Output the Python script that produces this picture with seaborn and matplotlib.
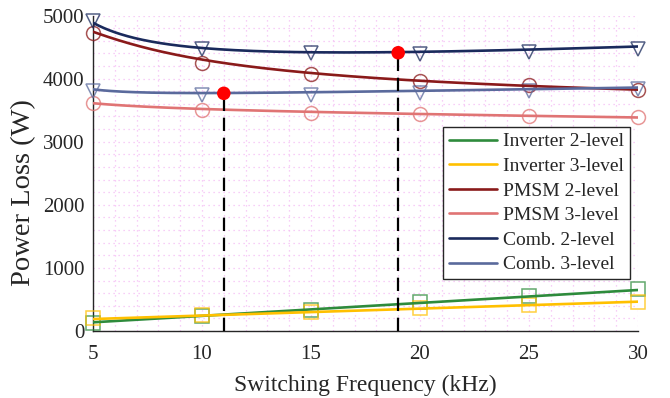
import numpy as np
import pandas as pd
import matplotlib
matplotlib.use("Agg")
import matplotlib.pyplot as plt
from matplotlib.ticker import MultipleLocator
import seaborn as sns

# ---------------- data ----------------
freq = [5, 10, 15, 20, 25, 30]  # kHz

# measured / simulated points (markers)
inv2_pts = [122, 238, 340, 465, 555, 660]
inv3_pts = [201, 253, 300, 359, 412, 465]
pmsm2_pts = [4717, 4252, 4068, 3967, 3899, 3819]
pmsm3_pts = [3618, 3502, 3460, 3439, 3407, 3396]
comb2_pts = [4913, 4474, 4400, 4395, 4421, 4465]
comb3_pts = [3803, 3740, 3740, 3772, 3810, 3830]

# model curves (lines) read at the same frequencies
inv2_fit = [138, 240, 343, 445, 548, 650]
inv3_fit = [190, 245, 300, 355, 410, 465]
pmsm2_fit = [4743, 4295, 4110, 3948, 3883, 3830]
pmsm3_fit = [3610, 3518, 3476, 3439, 3407, 3386]
comb2_fit = [4886, 4480, 4432, 4416, 4453, 4515]
comb3_fit = [3830, 3770, 3787, 3805, 3830, 3860]

# optimum points
opt_freq = [11, 19]
opt_loss = [3767, 4410]

labels = ["Inverter 2-level", "Inverter 3-level", "PMSM 2-level",
          "PMSM 3-level", "Comb. 2-level", "Comb. 3-level"]
colors = ["#2E8B3C", "#FFC000", "#8A1A1A", "#E07474", "#1A2A5C", "#5A6A9C"]
markers = ["s", "s", "o", "o", "v", "v"]
pts = [inv2_pts, inv3_pts, pmsm2_pts, pmsm3_pts, comb2_pts, comb3_pts]
fits = [inv2_fit, inv3_fit, pmsm2_fit, pmsm3_fit, comb2_fit, comb3_fit]

# ---------------- style ----------------
sns.set_style("white")
plt.rcParams["font.family"] = ["Liberation Serif", "DejaVu Serif"]

fig = plt.figure(figsize=(6.7, 3.98), dpi=100)
ax = fig.add_axes([0.1388, 0.1683, 0.8134, 0.7927])

f_arr = np.array(freq, dtype=float)
ff = np.linspace(5, 30, 300)

def smooth(vals):
    A = np.vstack([np.ones_like(f_arr), f_arr, 1 / f_arr, 1 / f_arr**2]).T
    coef, *_ = np.linalg.lstsq(A, np.array(vals, dtype=float), rcond=None)
    B = np.vstack([np.ones_like(ff), ff, 1 / ff, 1 / ff**2]).T
    return B @ coef

# markers first (behind lines)
for p, c, m in zip(pts, colors, markers):
    sns.lineplot(x=freq, y=p, ax=ax, linestyle="", marker=m, markersize=10,
                 markerfacecolor="none", markeredgecolor=c, markeredgewidth=1.1,
                 alpha=0.75, zorder=3, clip_on=False)

# model curves
for fv, c, lab in zip(fits, colors, labels):
    sns.lineplot(x=ff, y=smooth(fv), ax=ax, color=c, linewidth=1.9,
                 label=lab, zorder=4)

# optimum markers and dashed drop lines
for fo, lo in zip(opt_freq, opt_loss):
    ax.plot([fo, fo], [0, lo], color="black", linestyle=(0, (6, 3)),
            linewidth=1.6, zorder=5)
sns.scatterplot(x=opt_freq, y=opt_loss, ax=ax, color="#FF0000", s=95,
                edgecolor="none", zorder=6, legend=False)

# axes
ax.set_xlim(5, 30)
ax.set_ylim(0, 5000)
ax.set_xticks([5, 10, 15, 20, 25, 30])
ax.set_yticks([0, 1000, 2000, 3000, 4000, 5000])
ax.xaxis.set_minor_locator(MultipleLocator(1))
ax.yaxis.set_minor_locator(MultipleLocator(200))
ax.grid(which="both", color="#F5BEF5", linestyle=(0, (1, 3)), linewidth=0.9)
ax.set_axisbelow(True)
ax.tick_params(which="major", direction="in", length=5, width=1,
               labelsize=15, colors="#262626", pad=6)
ax.tick_params(which="minor", length=0)
ax.tick_params(axis="x", pad=10)
for s in ["top", "right"]:
    ax.spines[s].set_visible(False)
for s in ["left", "bottom"]:
    ax.spines[s].set_color("#262626")
    ax.spines[s].set_linewidth(1.0)

ax.set_xlabel("Switching Frequency (kHz)", fontsize=17, color="#262626", labelpad=8)
ax.set_ylabel("Power Loss (W)", fontsize=20.5, color="#262626")
ax.yaxis.set_label_coords(-0.105, 0.44)

leg = ax.legend(loc="upper right", bbox_to_anchor=(0.985, 0.647),
                borderaxespad=0, fontsize=14, frameon=True, fancybox=False,
                handlelength=2.5, handletextpad=0.3, labelspacing=0.36,
                borderpad=0.3)
leg.get_frame().set_edgecolor("#262626")
leg.get_frame().set_linewidth(1.0)
leg.get_frame().set_alpha(1)
leg.set_zorder(10)

fig.savefig("out.png", dpi=100)
